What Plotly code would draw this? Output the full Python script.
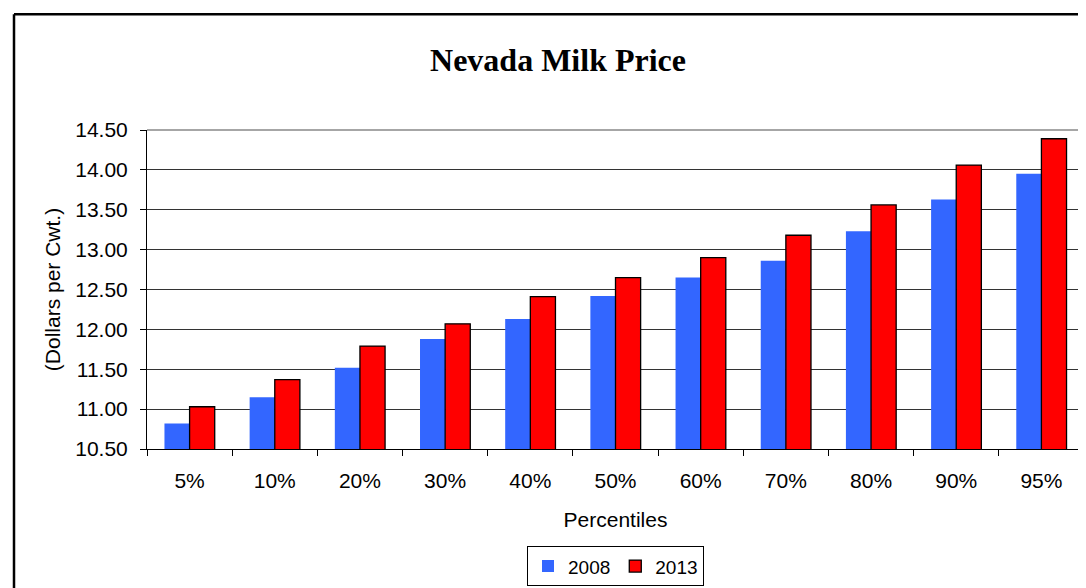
import plotly.graph_objects as go

percentiles = ["5%", "10%", "20%", "30%", "40%", "50%", "60%", "70%", "80%", "90%", "95%"]
price_2008 = [10.82, 11.15, 11.52, 11.88, 12.13, 12.42, 12.65, 12.86, 13.23, 13.63, 13.95]
price_2013 = [11.03, 11.37, 11.79, 12.07, 12.41, 12.65, 12.90, 13.18, 13.56, 14.06, 14.39]
y_ticks = [10.5, 11.0, 11.5, 12.0, 12.5, 13.0, 13.5, 14.0, 14.5]

FONT = "Liberation Sans, Arial, sans-serif"

fig = go.Figure()
fig.add_trace(go.Bar(
    x=percentiles, y=price_2008, name="2008",
    marker=dict(color="#3366FF", line=dict(width=0)),
))
fig.add_trace(go.Bar(
    x=percentiles, y=price_2013, name="2013",
    marker=dict(color="#FF0000", line=dict(color="black", width=1.3)),
))

fig.update_layout(
    width=1086, height=588,
    margin=dict(l=139, r=10, t=122, b=138),
    paper_bgcolor="white", plot_bgcolor="white",
    barmode="group", bargap=0.41, bargroupgap=0,
    font=dict(family=FONT, size=21, color="black"),
    title=dict(
        text="<b>Nevada Milk Price</b>",
        font=dict(family="Liberation Serif, Times New Roman, serif", size=32, color="black"),
        x=550 / 1086, xanchor="center", xref="container",
        y=1 - 52 / 588, yanchor="middle", yref="container",
    ),
    xaxis=dict(
        title=dict(text="Percentiles", font=dict(size=21), standoff=21),
        showline=True, linecolor="black", linewidth=1,
        ticks="outside", tickson="boundaries", ticklen=6, tickcolor="black",
        ticklabelstandoff=13,
        tickfont=dict(size=21),
        showgrid=False,
    ),
    yaxis=dict(
        title=dict(text="(Dollars per Cwt.)", font=dict(size=21), standoff=8),
        range=[10.5, 14.5], tickvals=y_ticks, tickformat=".2f",
        showline=True, linecolor="black", linewidth=1,
        ticks="outside", ticklen=6, tickcolor="black",
        ticklabelstandoff=8,
        tickfont=dict(size=21),
        showgrid=True, gridcolor="#333333", gridwidth=1,
        zeroline=False,
    ),
    legend=dict(
        orientation="h", x=0.5, xanchor="center", y=(450 - 550) / 328, yanchor="top",
        bordercolor="black", borderwidth=1, font=dict(size=19),
        itemwidth=30, tracegroupgap=0,
    ),
    showlegend=True,
)

# plot-area top/right border (gray) and outer chart frame
fig.add_shape(type="line", xref="paper", yref="paper", x0=0, x1=1, y0=1, y1=1,
              line=dict(color="#888888", width=1.5))
fig.add_shape(type="line", xref="paper", yref="paper", x0=1, x1=1, y0=0, y1=1,
              line=dict(color="#888888", width=1.5))
fx = (6 - 139) / 937
fy = (450 - 3) / 328
fig.add_shape(type="line", xref="paper", yref="paper", x0=fx, x1=1.2, y0=fy, y1=fy,
              line=dict(color="black", width=2.5))
fig.add_shape(type="line", xref="paper", yref="paper", x0=fx, x1=fx, y0=-1, y1=fy,
              line=dict(color="black", width=2.5))

fig.write_html("out.html")
